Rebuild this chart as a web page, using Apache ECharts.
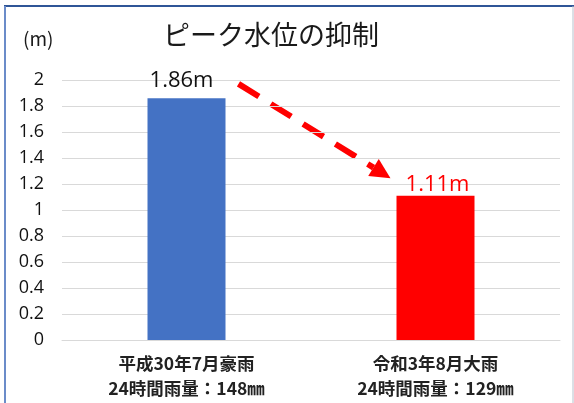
<!DOCTYPE html>
<html><head><meta charset="utf-8">
<script src="https://cdn.jsdelivr.net/npm/echarts@6/dist/echarts.min.js"></script>
<style>html,body{margin:0;padding:0;background:#fff}#c{width:574px;height:403px}</style>
</head><body><div id="c"></div>
<script>
const titleText = 'ピーク水位の抑制';
const unitText = '(m)';
const categories = ['平成30年7月豪雨\n24時間雨量：148㎜', '令和3年8月大雨\n24時間雨量：129㎜'];
const values = [1.86, 1.11];
const valueLabels = ['1.86m', '1.11m'];
const barColors = ['#4472c4', '#ff0000'];
const labelColors = ['#111111', '#ff0000'];
const yMin = 0, yMax = 2, yInterval = 0.2;
const arrowFrom = [0, 1.97];
const arrowTo = [1, 1.245];

const chart = echarts.init(document.getElementById('c'));
const jp = '"Noto Sans CJK JP", sans-serif';
const num = '"Open Sans", "Noto Sans", sans-serif';

chart.setOption({
  animation: false,
  backgroundColor: '#fff',
  title: [{
    text: titleText, left: 266, top: 16, textAlign: 'center',
    textStyle: {fontFamily: jp, fontSize: 27, fontWeight: 'normal', color: '#1a1a1a'}
  }, {
    text: unitText, left: 18, top: 24,
    textStyle: {fontFamily: jp, fontSize: 19, fontWeight: 'normal', color: '#1a1a1a'}
  }],
  grid: {left: 62, right: 14, top: 80, bottom: 63},
  xAxis: {
    type: 'category', data: categories,
    axisLine: {show: true, lineStyle: {color: '#d9d9d9'}},
    axisTick: {show: false},
    axisLabel: {margin: 11, fontFamily: jp, fontSize: 17.5, fontWeight: 'bold', color: '#222', lineHeight: 25}
  },
  yAxis: {
    type: 'value', min: yMin, max: yMax, interval: yInterval,
    axisLine: {show: false}, axisTick: {show: false},
    splitLine: {lineStyle: {color: '#d9d9d9', width: 1}},
    axisLabel: {margin: 18, fontFamily: num, fontSize: 18, color: '#111',
      formatter: v => String(Math.round(v * 10) / 10)}
  },
  series: [{
    type: 'bar', barWidth: 78,
    data: values.map((v, i) => ({
      value: v,
      itemStyle: {color: barColors[i]},
      label: {show: true, position: 'top', formatter: valueLabels[i],
        color: labelColors[i], fontFamily: num, fontSize: 22,
        distance: i === 0 ? 6 : 0, offset: i === 0 ? [-5, 0] : [2, 0]}
    }))
  }],
  graphic: []
});

const p0 = chart.convertToPixel({seriesIndex: 0}, arrowFrom);
const p1 = chart.convertToPixel({seriesIndex: 0}, arrowTo);
const half = 39;
const sx = p0[0] + half + 13, sy = p0[1];
const tx = p1[0] - half - 6, ty = p1[1];
const dx = tx - sx, dy = ty - sy, L = Math.hypot(dx, dy);
const ux = dx / L, uy = dy / L;
const headLen = 20, headW = 10;
const bx = tx - ux * headLen, by = ty - uy * headLen;
const nx = -uy, ny = ux;

chart.setOption({
  graphic: [
    {type: 'line', shape: {x1: sx, y1: sy, x2: bx, y2: by},
      style: {stroke: '#ff0000', lineWidth: 6, lineDash: [24, 14]}},
    {type: 'polygon', shape: {points: [[tx, ty], [bx + nx * headW, by + ny * headW], [bx - nx * headW, by - ny * headW]]},
      style: {fill: '#ff0000'}},
    {type: 'line', shape: {x1: 4, y1: 6, x2: 574, y2: 6}, style: {stroke: '#2f5597', lineWidth: 2}},
    {type: 'line', shape: {x1: 5, y1: 6, x2: 5, y2: 403}, style: {stroke: '#6b8cc9', lineWidth: 2}},
    {type: 'line', shape: {x1: 573, y1: 6, x2: 573, y2: 403}, style: {stroke: '#b8c0cc', lineWidth: 1}}
  ]
});
</script></body></html>
